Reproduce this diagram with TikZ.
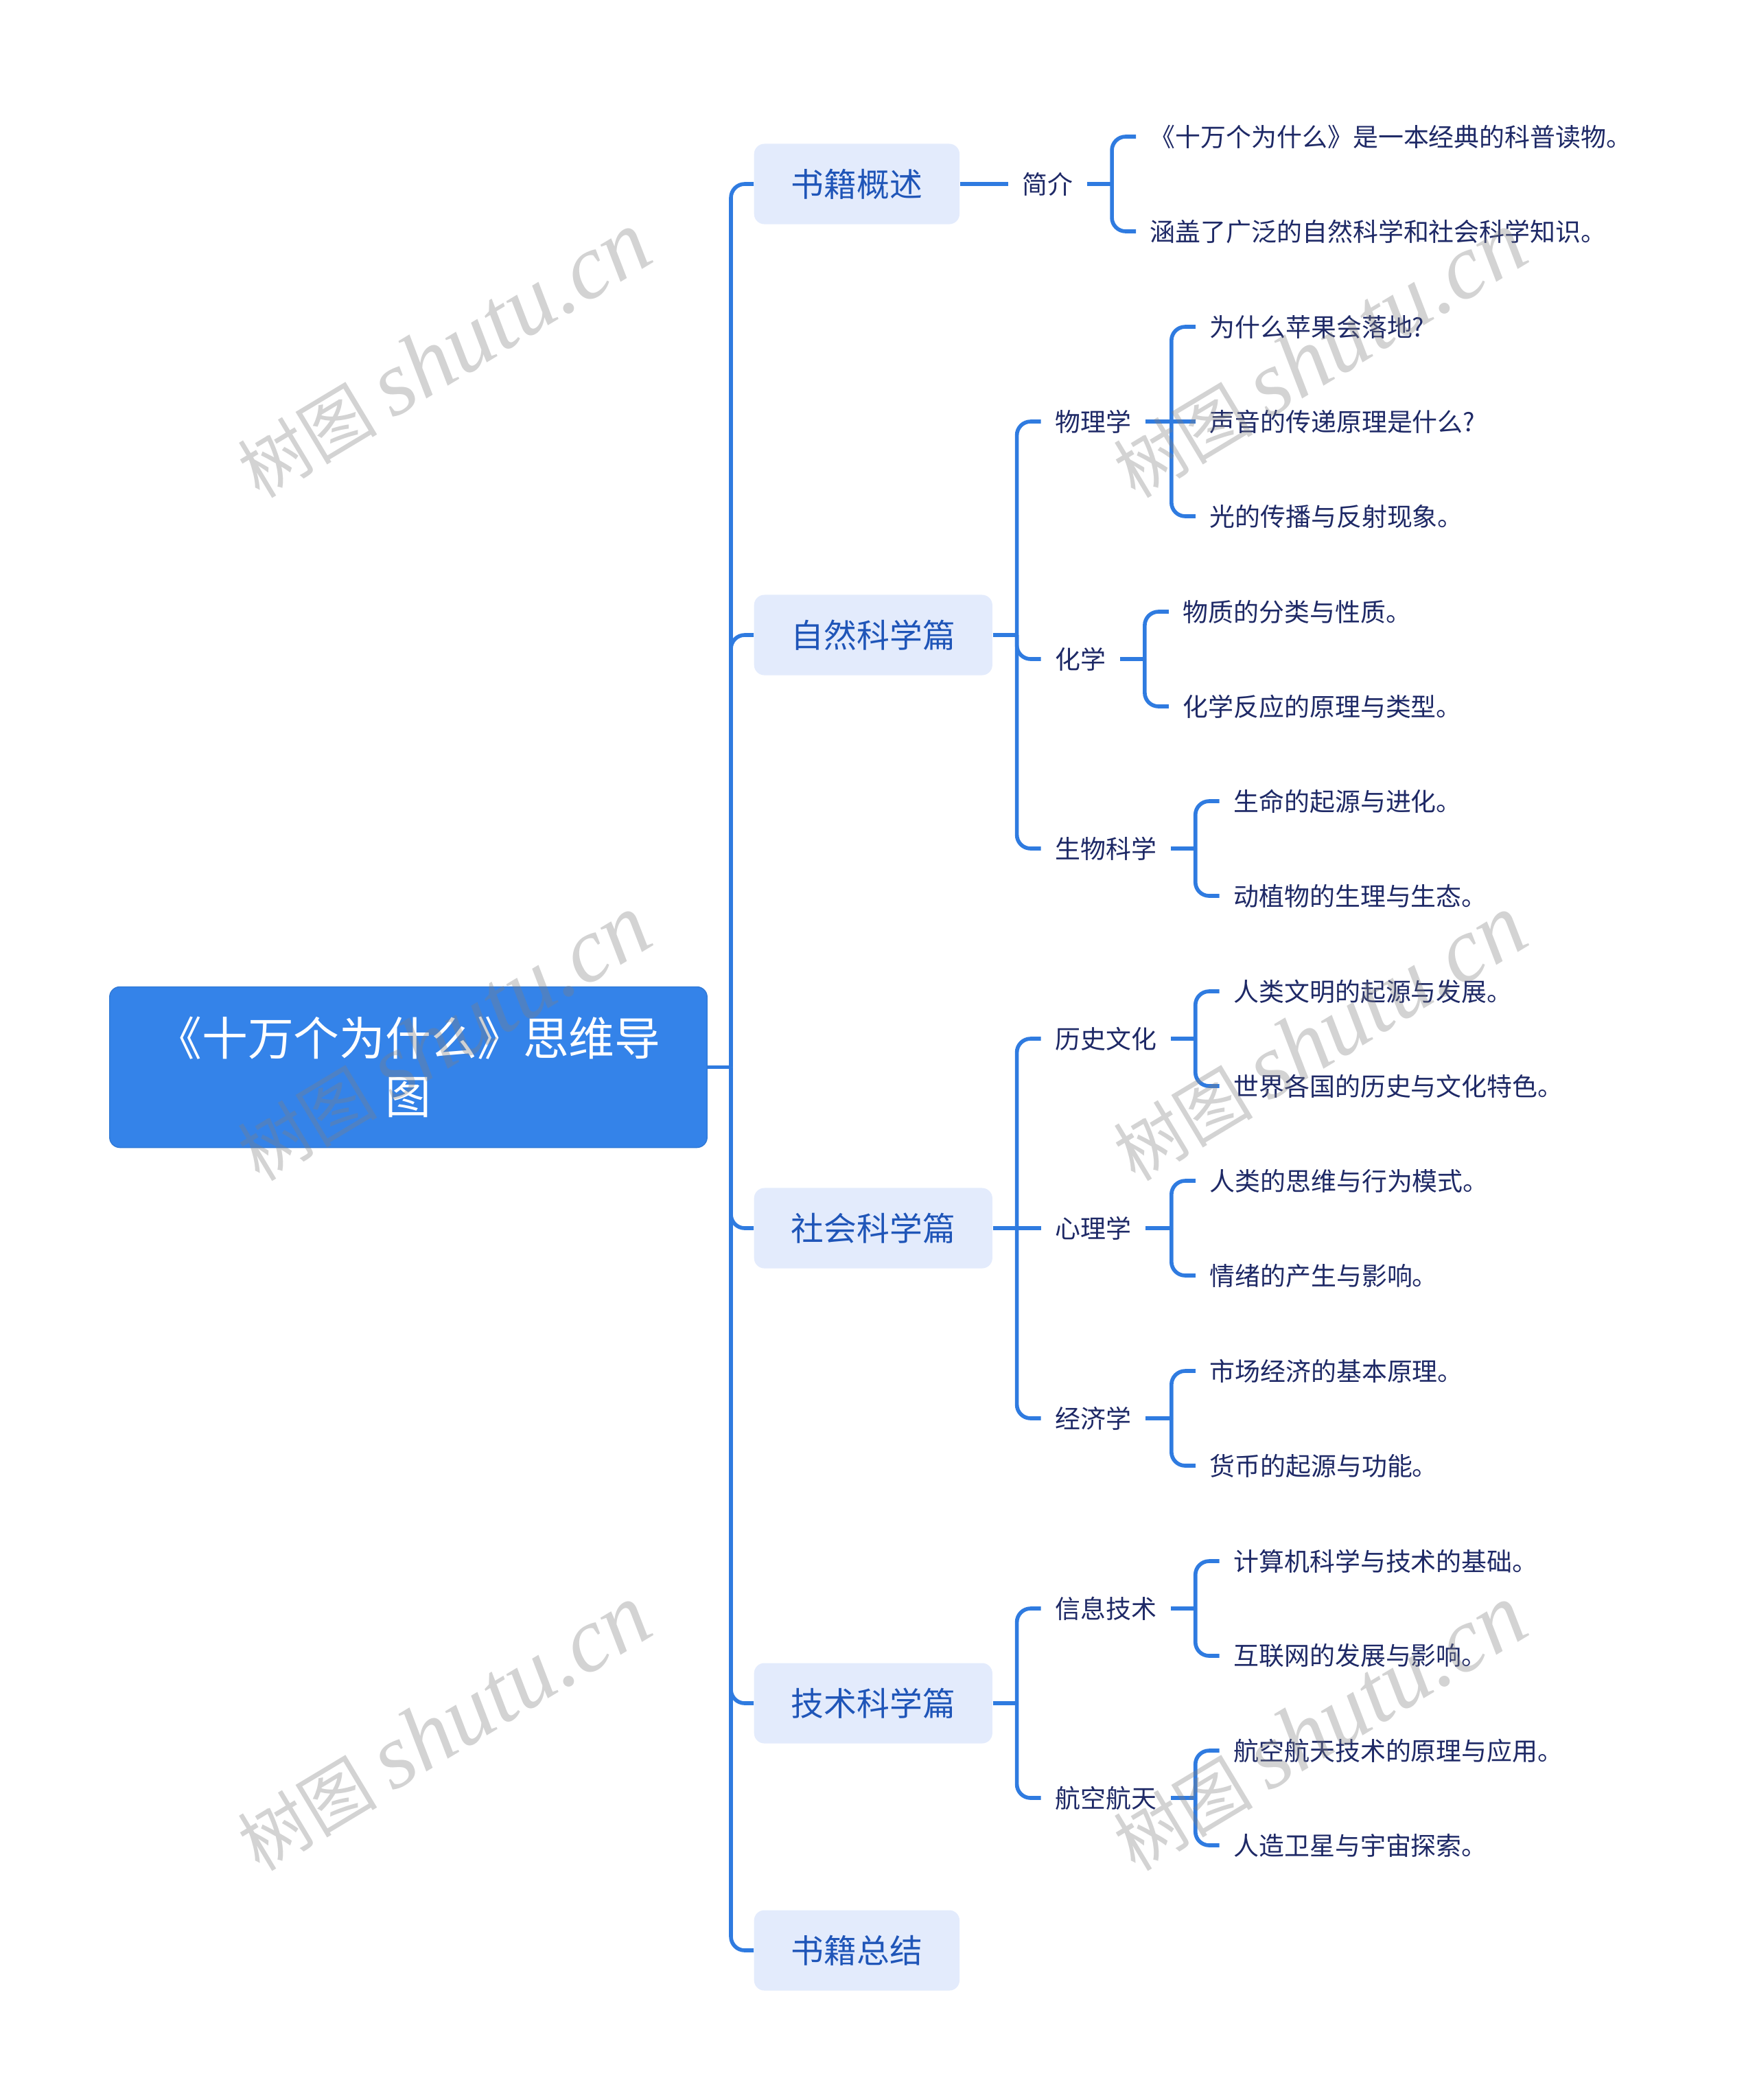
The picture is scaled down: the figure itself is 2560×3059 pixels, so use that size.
\documentclass[tikz,border=0pt]{standalone}
\usepackage{fontspec}
\setmainfont{Noto Sans CJK SC}
\newfontfamily\wmfont{Liberation Serif}
\usepackage{tikz}
\usetikzlibrary{positioning,calc}
\definecolor{mainblue}{HTML}{3483E9}
\definecolor{linkblue}{HTML}{2F7BE0}
\definecolor{paleblue}{HTML}{E3EBFC}
\definecolor{topicblue}{HTML}{1F55B8}
\definecolor{navy}{HTML}{1E2966}
\definecolor{wmgray}{HTML}{808080}

\begin{document}
\begin{tikzpicture}[x=0.01cm,y=0.01cm,
  root/.style={fill=mainblue,draw=mainblue!92!black,rounded corners=0.15cm,text=white,minimum width=8.7cm,minimum height=2.34cm,align=center,font=\fontsize{19}{24}\selectfont},
  topic/.style={fill=paleblue,rounded corners=0.15cm,text=topicblue,inner xsep=0.54cm,inner ysep=0pt,minimum height=1.17cm,font=\fontsize{13.6}{16}\selectfont,anchor=west},
  sub/.style={text=navy,inner xsep=0.2cm,inner ysep=0.08cm,font=\fontsize{10.5}{12}\selectfont,anchor=west},
  leaf/.style={sub},
  link/.style={linkblue,line width=1.6pt,rounded corners=0.2cm},
  wm/.style={text=wmgray,opacity=0.35,rotate=31,font=\fontsize{29}{36}\selectfont}]
\useasboundingbox (0,0) rectangle (2560,-3059);

% root and main topics
\node[root] (root) at (595,-1554.5) {《十万个为什么》思维导\\图};
\node[topic] (intro) at (1098,-268) {书籍概述};
\node[topic] (nat) at (1098,-925) {自然科学篇};
\node[topic] (soc) at (1098,-1789) {社会科学篇};
\node[topic] (tech) at (1098,-2481) {技术科学篇};
\node[topic] (sum) at (1098,-2841) {书籍总结};

\coordinate (trunk) at (1065,-1554.5);
\draw[link] (root.east) -- (trunk);
\draw[link] (trunk) |- (intro.west);
\draw[link] (trunk) |- (nat.west);
\draw[link] (trunk) |- (soc.west);
\draw[link] (trunk) |- (tech.west);
\draw[link] (trunk) |- (sum.west);

% 书籍概述
\node[sub] (brief) at ($(intro.east)+(70,0)$) {简介};
\draw[link] (intro.east) -- (brief.west);
\coordinate (brief-b) at ($(brief.east)+(36,0)$);
\draw[link] (brief.east) -- (brief-b);
\node[leaf] (brief1) at ($(brief-b)+(35,69)$) {《十万个为什么》是一本经典的科普读物。};
\node[leaf] (brief2) at ($(brief-b)+(35,-69)$) {涵盖了广泛的自然科学和社会科学知识。};
\draw[link] (brief-b) |- (brief1.west);
\draw[link] (brief-b) |- (brief2.west);

% 自然科学篇
\coordinate (nat-b) at ($(nat.east)+(35,0)$);
\draw[link] (nat.east) -- (nat-b);
\node[sub] (phys) at ($(nat-b)+(35,311)$) {物理学};
\node[sub] (chem) at ($(nat-b)+(35,-35)$) {化学};
\node[sub] (bio) at ($(nat-b)+(35,-311)$) {生物科学};
\draw[link] (nat-b) |- (phys.west);
\draw[link] (nat-b) |- (chem.west);
\draw[link] (nat-b) |- (bio.west);

\coordinate (phys-b) at ($(phys.east)+(38,0)$);
\draw[link] (phys.east) -- (phys-b);
\node[leaf] (phys1) at ($(phys-b)+(35,138)$) {为什么苹果会落地?};
\node[leaf] (phys2) at ($(phys-b)+(35,0)$) {声音的传递原理是什么?};
\node[leaf] (phys3) at ($(phys-b)+(35,-138)$) {光的传播与反射现象。};
\draw[link] (phys-b) |- (phys1.west);
\draw[link] (phys-b) -- (phys2.west);
\draw[link] (phys-b) |- (phys3.west);

\coordinate (chem-b) at ($(chem.east)+(36,0)$);
\draw[link] (chem.east) -- (chem-b);
\node[leaf] (chem1) at ($(chem-b)+(35,69)$) {物质的分类与性质。};
\node[leaf] (chem2) at ($(chem-b)+(35,-69)$) {化学反应的原理与类型。};
\draw[link] (chem-b) |- (chem1.west);
\draw[link] (chem-b) |- (chem2.west);

\coordinate (bio-b) at ($(bio.east)+(36,0)$);
\draw[link] (bio.east) -- (bio-b);
\node[leaf] (bio1) at ($(bio-b)+(35,69)$) {生命的起源与进化。};
\node[leaf] (bio2) at ($(bio-b)+(35,-69)$) {动植物的生理与生态。};
\draw[link] (bio-b) |- (bio1.west);
\draw[link] (bio-b) |- (bio2.west);

% 社会科学篇
\coordinate (soc-b) at ($(soc.east)+(35,0)$);
\draw[link] (soc.east) -- (soc-b);
\node[sub] (hist) at ($(soc-b)+(35,276)$) {历史文化};
\node[sub] (psy) at ($(soc-b)+(35,0)$) {心理学};
\node[sub] (econ) at ($(soc-b)+(35,-277)$) {经济学};
\draw[link] (soc-b) |- (hist.west);
\draw[link] (soc-b) -- (psy.west);
\draw[link] (soc-b) |- (econ.west);

\coordinate (hist-b) at ($(hist.east)+(36,0)$);
\draw[link] (hist.east) -- (hist-b);
\node[leaf] (hist1) at ($(hist-b)+(35,69)$) {人类文明的起源与发展。};
\node[leaf] (hist2) at ($(hist-b)+(35,-69)$) {世界各国的历史与文化特色。};
\draw[link] (hist-b) |- (hist1.west);
\draw[link] (hist-b) |- (hist2.west);

\coordinate (psy-b) at ($(psy.east)+(38,0)$);
\draw[link] (psy.east) -- (psy-b);
\node[leaf] (psy1) at ($(psy-b)+(35,69)$) {人类的思维与行为模式。};
\node[leaf] (psy2) at ($(psy-b)+(35,-69)$) {情绪的产生与影响。};
\draw[link] (psy-b) |- (psy1.west);
\draw[link] (psy-b) |- (psy2.west);

\coordinate (econ-b) at ($(econ.east)+(38,0)$);
\draw[link] (econ.east) -- (econ-b);
\node[leaf] (econ1) at ($(econ-b)+(35,69)$) {市场经济的基本原理。};
\node[leaf] (econ2) at ($(econ-b)+(35,-69)$) {货币的起源与功能。};
\draw[link] (econ-b) |- (econ1.west);
\draw[link] (econ-b) |- (econ2.west);

% 技术科学篇
\coordinate (tech-b) at ($(tech.east)+(35,0)$);
\draw[link] (tech.east) -- (tech-b);
\node[sub] (info) at ($(tech-b)+(35,138)$) {信息技术};
\node[sub] (aero) at ($(tech-b)+(35,-138)$) {航空航天};
\draw[link] (tech-b) |- (info.west);
\draw[link] (tech-b) |- (aero.west);

\coordinate (info-b) at ($(info.east)+(36,0)$);
\draw[link] (info.east) -- (info-b);
\node[leaf] (info1) at ($(info-b)+(35,69)$) {计算机科学与技术的基础。};
\node[leaf] (info2) at ($(info-b)+(35,-69)$) {互联网的发展与影响。};
\draw[link] (info-b) |- (info1.west);
\draw[link] (info-b) |- (info2.west);

\coordinate (aero-b) at ($(aero.east)+(36,0)$);
\draw[link] (aero.east) -- (aero-b);
\node[leaf] (aero1) at ($(aero-b)+(35,69)$) {航空航天技术的原理与应用。};
\node[leaf] (aero2) at ($(aero-b)+(35,-69)$) {人造卫星与宇宙探索。};
\draw[link] (aero-b) |- (aero1.west);
\draw[link] (aero-b) |- (aero2.west);

% watermark
\node[wm] (wm1) at (646,-517) {树图 {\wmfont\itshape\fontsize{38}{40}\selectfont shutu.cn}};
\node[wm] (wm2) at (1922,-517) {树图 {\wmfont\itshape\fontsize{38}{40}\selectfont shutu.cn}};
\node[wm] (wm3) at (646,-1512) {树图 {\wmfont\itshape\fontsize{38}{40}\selectfont shutu.cn}};
\node[wm] (wm4) at (1922,-1512) {树图 {\wmfont\itshape\fontsize{38}{40}\selectfont shutu.cn}};
\node[wm] (wm5) at (646,-2517) {树图 {\wmfont\itshape\fontsize{38}{40}\selectfont shutu.cn}};
\node[wm] (wm6) at (1922,-2517) {树图 {\wmfont\itshape\fontsize{38}{40}\selectfont shutu.cn}};
\end{tikzpicture}
\end{document}
